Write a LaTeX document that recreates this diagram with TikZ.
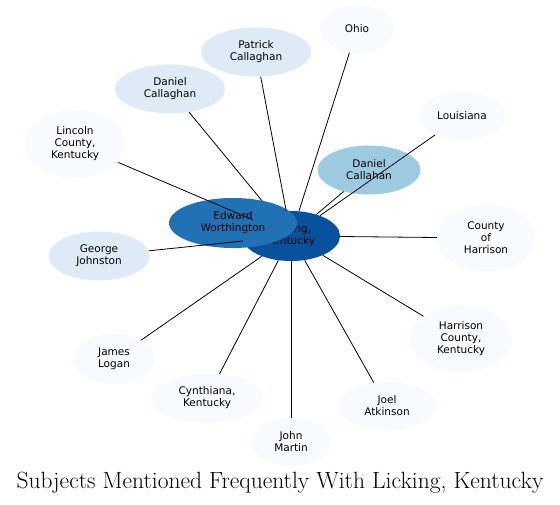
\documentclass[tikz,border=0pt]{standalone}
\usepackage{fontspec}
\setsansfont{DejaVu Sans}
\usetikzlibrary{shapes.geometric}
\definecolor{bluea}{HTML}{F7FBFF}
\definecolor{blueb}{HTML}{DEEBF7}
\definecolor{bluec}{HTML}{9ECAE1}
\definecolor{blued}{HTML}{2171B5}
\definecolor{bluee}{HTML}{08519C}

\begin{document}
\begin{tikzpicture}[
  x=1pt, y=-1pt,
  subj/.style={ellipse, inner sep=0pt, align=center, minimum width=100pt, minimum height=49pt,
    font=\sffamily\fontsize{10.5}{12}\selectfont},
  link/.style={line width=0.8pt}
]
\useasboundingbox (0,0) rectangle (560,504);

% outer subjects
\node[subj, fill=bluea, minimum width=73pt, minimum height=48pt] (ohio) at (357,29) {Ohio};
\node[subj, fill=blueb, minimum width=110pt] (patrick) at (256,52) {Patrick\\Callaghan};
\node[subj, fill=blueb, minimum width=110pt] (dcallaghan) at (170,89) {Daniel\\Callaghan};
\node[subj, fill=bluea, minimum width=101pt, minimum height=68pt] (lincoln) at (75,144) {Lincoln\\County,\\Kentucky};
\node[subj, fill=bluea, minimum width=86pt, minimum height=48pt] (louisiana) at (462,116) {Louisiana};
\node[subj, fill=bluec, minimum width=103pt] (dcallahan) at (369,170) {Daniel\\Callahan};
\node[subj, fill=bluea, minimum width=98pt, minimum height=67pt] (county) at (486,238) {County\\of\\Harrison};
\node[subj, fill=blueb, minimum width=101pt] (george) at (99,256) {George\\Johnston};
\node[subj, fill=bluea, minimum width=101pt, minimum height=67pt] (harrison) at (461,339) {Harrison\\County,\\Kentucky};
\node[subj, fill=bluea, minimum width=81pt, minimum height=50pt] (james) at (114,359) {James\\Logan};
\node[subj, fill=bluea, minimum width=113pt] (cynthiana) at (207,398) {Cynthiana,\\Kentucky};
\node[subj, fill=bluea, minimum width=98pt, minimum height=48pt] (joel) at (387,406) {Joel\\Atkinson};
\node[subj, fill=bluea, minimum width=80pt, minimum height=48pt] (john) at (291,442) {John\\Martin};

% centre
\node[subj, fill=bluee, minimum width=98pt, minimum height=50pt] (licking) at (291,236) {Licking,\\Kentucky};
\draw[link] (dcallaghan) -- (licking);
\node[subj, fill=blued, minimum width=128pt, minimum height=50pt] (edward) at (233,223) {Edward\\Worthington};

\foreach \s in {ohio,patrick,lincoln,louisiana,dcallahan,county,george,harrison,james,cynthiana,joel,john}
  \draw[link] (\s) -- (licking);

\node[anchor=base, font=\fontsize{23.5}{28}\selectfont] (title) at (280,488) {Subjects Mentioned Frequently With Licking, Kentucky};
\end{tikzpicture}
\end{document}
